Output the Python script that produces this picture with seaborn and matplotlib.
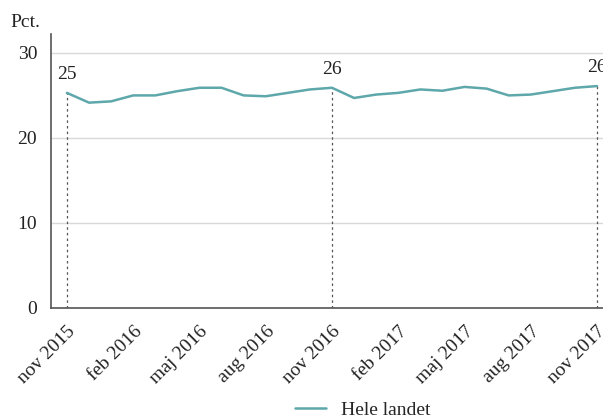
import matplotlib
matplotlib.use("Agg")
import matplotlib.pyplot as plt
import seaborn as sns
import pandas as pd
import numpy as np

months = ["nov 2015", "dec 2015", "jan 2016", "feb 2016", "mar 2016", "apr 2016",
          "maj 2016", "jun 2016", "jul 2016", "aug 2016", "sep 2016", "okt 2016",
          "nov 2016", "dec 2016", "jan 2017", "feb 2017", "mar 2017", "apr 2017",
          "maj 2017", "jun 2017", "jul 2017", "aug 2017", "sep 2017", "okt 2017",
          "nov 2017"]
values = [25.3, 24.15, 24.3, 25.0, 25.0, 25.5, 25.9, 25.9, 25.0, 24.9, 25.3, 25.7,
          25.9, 24.7, 25.1, 25.3, 25.7, 25.55, 26.0, 25.8, 25.0, 25.1, 25.5, 25.9,
          26.1]
series_name = "Hele landet"
highlight = ["nov 2015", "nov 2016", "nov 2017"]
yticks = [0, 10, 20, 30]

df = pd.DataFrame({"month": months, "value": values, "idx": np.arange(len(months)),
                   "serie": series_name})

sns.set_theme(style="white")
plt.rcParams["font.family"] = ["Liberation Serif", "DejaVu Serif"]

color = "#5ea7aa"
fig = plt.figure(figsize=(6.03, 4.17), dpi=100)
ax = fig.add_axes([0.0846, 0.2614, 0.9154, 0.6566])

sns.lineplot(data=df, x="idx", y="value", hue="serie", palette=[color],
             linewidth=1.8, ax=ax, legend=True)

for m in highlight:
    i = months.index(m)
    v = values[i]
    ax.plot([i, i], [0, v], linestyle=(0, (2, 2.5)), color="#555555", linewidth=0.9,
            zorder=1)
    ax.text(i, v + 1.2, f"{round(v):d}", ha="center", va="bottom", fontsize=14,
            color="#222222", clip_on=False)

ax.set_xlim(-0.72, 24.27)
ax.set_ylim(0, 32.2)
ax.set_yticks(yticks)
ax.set_yticklabels([str(t) for t in yticks], fontsize=14, color="#222222")
tick_pos = list(range(0, len(months), 3))
ax.set_xticks(tick_pos)
ax.set_xticklabels([months[i] for i in tick_pos], rotation=45, ha="right",
                   rotation_mode="anchor", fontsize=14, color="#222222")
ax.tick_params(axis="both", direction="out", length=7, width=1, color="#555555",
               pad=3)
ax.tick_params(axis="x", length=8)
ax.grid(axis="y", color="#d9d9d9", linewidth=1)
ax.set_axisbelow(True)
for s in ["top", "right"]:
    ax.spines[s].set_visible(False)
for s in ["left", "bottom"]:
    ax.spines[s].set_color("#555555")
    ax.spines[s].set_linewidth(1.2)
ax.set_xlabel("")
ax.set_ylabel("")

fig.text(0.017, 0.945, "Pct.", fontsize=14, color="#222222", va="center")

leg = ax.legend(loc="center", bbox_to_anchor=(0.565, -0.372), frameon=False,
                fontsize=14, handlelength=1.6, handletextpad=0.8,
                bbox_transform=ax.transAxes)

fig.savefig("out.png", dpi=100)
